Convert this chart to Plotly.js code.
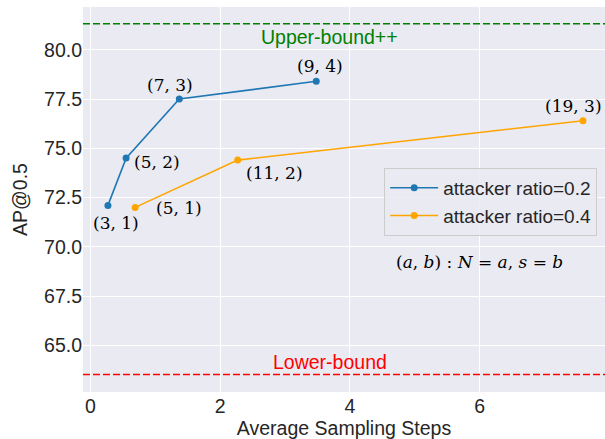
<!DOCTYPE html>
<html>
<head>
<meta charset="utf-8">
<script src="https://cdn.plot.ly/plotly-3.0.1.min.js"></script>
<style>html,body{margin:0;padding:0;background:#fff;}#chart{width:605px;height:439px;}</style>
</head>
<body>
<div id="chart"></div>
<script>
// ---- data ----
const series1Name = "attacker ratio=0.2";
const series1X = [0.27, 0.55, 1.37, 3.48];
const series1Y = [72.1, 74.5, 77.5, 78.4];
const series1N = [3, 5, 7, 9];
const series1S = [1, 2, 3, 4];

const series2Name = "attacker ratio=0.4";
const series2X = [0.69, 2.27, 7.59];
const series2Y = [72.0, 74.4, 76.4];
const series2N = [5, 11, 19];
const series2S = [1, 2, 3];

const upperBound = 81.32;
const lowerBound = 63.52;
const upperLabel = "Upper-bound++";
const lowerLabel = "Lower-bound";
const xTicks = [0, 2, 4, 6];
const yTicks = [65.0, 67.5, 70.0, 72.5, 75.0, 77.5, 80.0];

// ---- styles ----
const shifts1 = [[8, -18], [31, -4], [-9, 14], [4, 15]];
const shifts2 = [[44, -1], [37, -13], [-9, 15]];
const sansFont = "Liberation Sans, Arial, sans-serif";
const serifFont = "DejaVu Serif, serif";

function pointLabels(xs, ys, ns, ss, shifts) {
  return xs.map((x, i) => ({
    x: x, y: ys[i], xref: "x", yref: "y",
    text: "(" + ns[i] + ", " + ss[i] + ")",
    showarrow: false, xanchor: "center", yanchor: "middle",
    xshift: shifts[i][0], yshift: shifts[i][1],
    font: {family: serifFont, size: 17, color: "#000"}
  }));
}

const traces = [
  {x: series1X, y: series1Y, name: series1Name, type: "scatter", mode: "lines+markers",
   line: {color: "#1f77b4", width: 1.6}, marker: {color: "#1f77b4", size: 7}},
  {x: series2X, y: series2Y, name: series2Name, type: "scatter", mode: "lines+markers",
   line: {color: "#ffa500", width: 1.6}, marker: {color: "#ffa500", size: 7}}
];

const annotations = []
  .concat(pointLabels(series1X, series1Y, series1N, series1S, shifts1))
  .concat(pointLabels(series2X, series2Y, series2N, series2S, shifts2))
  .concat([
    {x: 0.472, y: upperBound, xref: "paper", yref: "y", text: upperLabel, showarrow: false,
     xanchor: "center", yanchor: "middle",
     yshift: -13, font: {family: sansFont, size: 19.5, color: "#008000"}},
    {x: 0.474, y: lowerBound, xref: "paper", yref: "y", text: lowerLabel, showarrow: false,
     xanchor: "center", yanchor: "middle",
     yshift: 12, font: {family: sansFont, size: 19.5, color: "#ff0000"}},
    {x: 0.759, y: 0.338, xref: "paper", yref: "paper", xanchor: "center", yanchor: "middle",
     text: "(<i>a</i>, <i>b</i>) : <i>N</i> = <i>a</i>, <i>s</i> = <i>b</i>", showarrow: false,
     font: {family: serifFont, size: 17, color: "#000"}}
  ]);

const layout = {
  width: 605, height: 439,
  margin: {l: 83, r: 0, t: 7, b: 47},
  paper_bgcolor: "#ffffff", plot_bgcolor: "#eaeaf2",
  showlegend: true,
  legend: {x: 0.577, y: 0.582, xanchor: "left", yanchor: "top",
    bgcolor: "rgba(234,234,242,0.85)", bordercolor: "#cccccc", borderwidth: 1,
    itemwidth: 48,
    font: {family: sansFont, size: 19, color: "#262626"}},
  xaxis: {range: [-0.114, 7.93], tickvals: xTicks, ticktext: xTicks.map(String),
    showgrid: true, gridcolor: "#ffffff", gridwidth: 1, zeroline: false, showline: false,
    ticks: "", tickfont: {family: sansFont, size: 19.5, color: "#262626"},
    title: {text: "Average Sampling Steps", font: {family: sansFont, size: 19.5, color: "#262626"}, standoff: 9}},
  yaxis: {range: [62.63, 82.17], tickvals: yTicks, ticktext: yTicks.map(v => v.toFixed(1)),
    showgrid: true, gridcolor: "#ffffff", gridwidth: 1, zeroline: false, showline: false,
    ticks: "", tickfont: {family: sansFont, size: 19.5, color: "#262626"},
    title: {text: "AP@0.5", font: {family: sansFont, size: 19.5, color: "#262626"}, standoff: 11}},
  shapes: [
    {type: "line", xref: "paper", yref: "y", x0: 0, x1: 1, y0: upperBound, y1: upperBound,
     line: {color: "#008000", width: 1.5, dash: "7px,3px"}},
    {type: "line", xref: "paper", yref: "y", x0: 0, x1: 1, y0: lowerBound, y1: lowerBound,
     line: {color: "#ff0000", width: 1.5, dash: "7px,3px"}}
  ],
  annotations: annotations
};

Plotly.newPlot("chart", traces, layout, {displayModeBar: false, staticPlot: true});
</script>
</body>
</html>
